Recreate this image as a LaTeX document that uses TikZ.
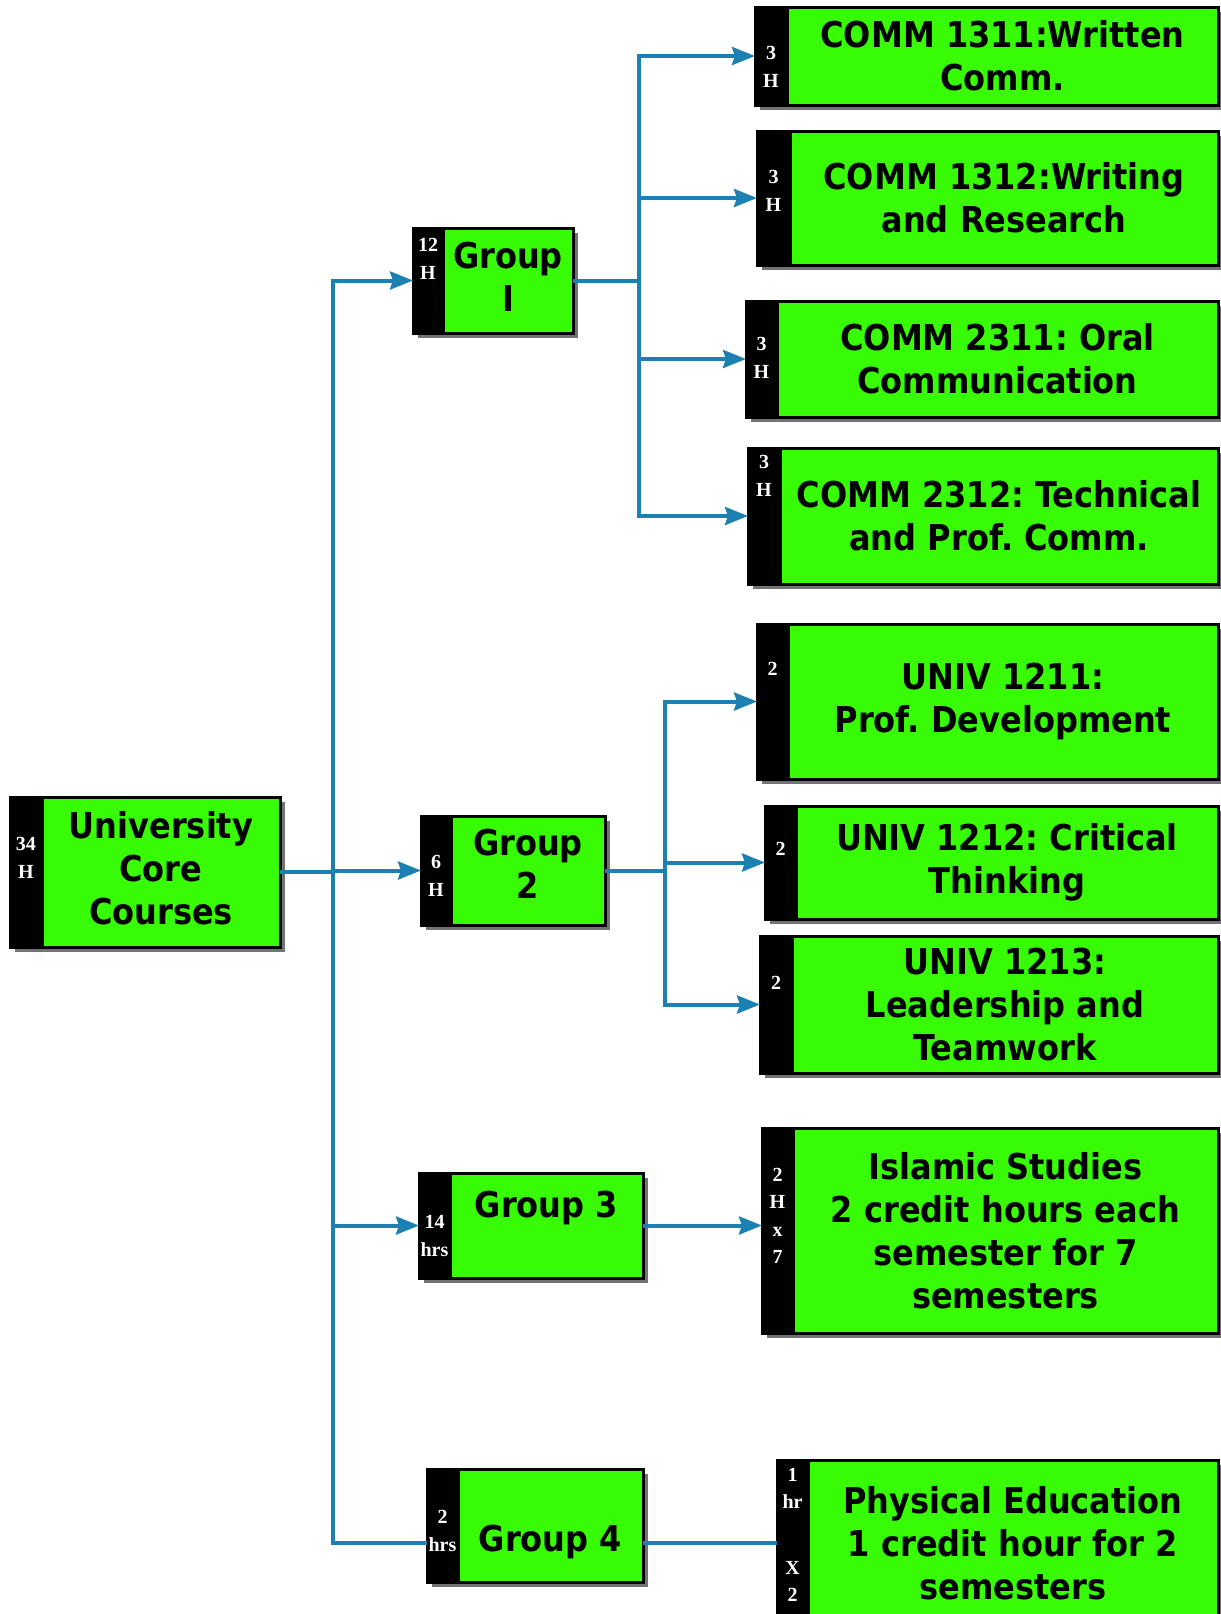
\documentclass[tikz,border=0pt]{standalone}
\usepackage{fontspec}
\setmainfont{Liberation Serif}
\newfontfamily\boxfont{DejaVu Sans Condensed Bold}
\newfontfamily\hrsfont{Liberation Serif Bold}
\usetikzlibrary{shadows,arrows.meta}
\frenchspacing

\definecolor{boxgreen}{RGB}{55,252,5}
\definecolor{linkblue}{RGB}{28,128,178}
\definecolor{shadowgray}{RGB}{115,115,115}

\tikzset{
  boxshadow/.style={drop shadow={shadow xshift=2.5pt, shadow yshift=-2.5pt, fill=shadowgray, opacity=1}},
  stripbox/.style={fill=black, draw=black, line width=1.5pt, inner sep=0pt, outer sep=0pt,
    anchor=north west, boxshadow},
  greenbox/.style={fill=boxgreen, draw=black, line width=1.5pt, inner sep=0pt, outer sep=0pt,
    anchor=north west, boxshadow},
  maintext/.style={font=\boxfont\fontsize{17.8pt}{21.5pt}\selectfont, align=center, inner sep=0pt},
  hrstext/.style={font=\hrsfont\fontsize{10pt}{13.7pt}\selectfont, text=white, align=center, inner sep=0pt},
  conn/.style={draw=linkblue, line width=2pt},
  arr/.style={conn, -{Stealth[length=11.5pt, width=9pt, inset=1.5pt]}},
}

% course box: name, left, top, right, bottom, right edge of the black strip
\newcommand\crsbox[6]{%
  \node[stripbox, minimum width={(#6-#2)*0.5pt}, minimum height={(#5-#3)*0.5pt}] (#1s) at (#2,#3) {};
  \node[greenbox, minimum width={(#4-#6)*0.5pt}, minimum height={(#5-#3)*0.5pt}] (#1) at (#1s.north east) {};
}
% white hours label inside the strip: name, vertical centre, text
\newcommand\hrslabel[3]{%
  \node[hrstext] (#1h) at (#1s.center |- 0,#2) {#3};
}

\begin{document}
\begin{tikzpicture}[x=0.5pt, y=-0.5pt]
  \useasboundingbox (0,0) rectangle (1221,1614);
  \fill[white] (0,0) rectangle (1221,1614);
  \clip (0,0) rectangle (1221,1614);

  % boxes
  \crsbox{r}{10}{797}{280}{947}{42}
  \crsbox{g1}{413}{228}{573}{333}{443}
  \crsbox{g2}{421}{816}{605}{925}{451}
  \crsbox{g3}{419}{1173}{643}{1278}{450}
  \crsbox{g4}{427}{1469}{643}{1582}{458}
  \crsbox{c1}{755}{7}{1218}{105}{787}
  \crsbox{c2}{757}{131}{1218}{265}{790}
  \crsbox{c3}{746}{301}{1218}{417}{777}
  \crsbox{c4}{748}{448}{1218}{584}{780}
  \crsbox{u1}{757}{624}{1218}{779}{788}
  \crsbox{u2}{765}{806}{1218}{919}{796}
  \crsbox{u3}{760}{936}{1218}{1073}{792}
  \crsbox{isl}{762}{1128}{1218}{1333}{793}
  \crsbox{pe}{777}{1460}{1218}{1626}{808}

  % main texts
  \node[maintext] (rt) at ([yshift=2pt]r.center) {University\\Core\\Courses};
  \node[maintext] (g1t) at ([yshift=2pt]g1.center) {Group\\I};
  \node[maintext] (g2t) at ([yshift=3.5pt]g2.center) {Group\\2};
  \node[maintext] (g3t) at ([yshift=9pt]g3.center) {Group 3};
  \node[maintext] (g4t) at ([yshift=-8pt]g4.center) {Group 4};
  \node[maintext] (c1t) at (c1.center) {COMM 1311:Written\\Comm.};
  \node[maintext] (c2t) at (c2.center) {COMM 1312:Writing\\and Research};
  \node[maintext] (c3t) at (c3.center) {COMM 2311: Oral\\Communication};
  \node[maintext] (c4t) at (c4.center) {COMM 2312: Technical\\and Prof. Comm.};
  \node[maintext] (u1t) at (u1.center) {UNIV 1211:\\Prof. Development};
  \node[maintext] (u2t) at (u2.center) {UNIV 1212: Critical\\Thinking};
  \node[maintext] (u3t) at (u3.center) {UNIV 1213:\\Leadership and\\Teamwork};
  \node[maintext] (islt) at (isl.center) {Islamic Studies\\2 credit hours each\\semester for 7\\semesters};
  \node[maintext] (pet) at (pe.center) {Physical Education\\1 credit hour for 2\\semesters};

  % hours in the strips
  \hrslabel{r}{858}{34\\H}
  \hrslabel{g1}{259}{12\\H}
  \hrslabel{g2}{876}{6\\H}
  \hrslabel{g3}{1236}{14\\hrs}
  \hrslabel{g4}{1531}{2\\hrs}
  \hrslabel{c1}{67}{3\\H}
  \hrslabel{c2}{191}{3\\H}
  \hrslabel{c3}{358}{3\\H}
  \hrslabel{c4}{476}{3\\H}
  \hrslabel{u1}{669}{2}
  \hrslabel{u2}{849}{2}
  \hrslabel{u3}{983}{2}
  \hrslabel{isl}{1216}{2\\H\\x\\7}
  \hrslabel{pe}{1535}{1\\hr\\[19pt]X\\2}

  % connectors from the root
  \coordinate (tk) at ([xshift=26.5pt]r.east);
  \draw[conn] (r.east) -- (tk);
  \draw[arr] (tk) |- (g1s.west);
  \draw[arr] (tk) |- (g2s.west);
  \draw[arr] (tk) |- (g3s.west);
  \draw[conn] (tk) |- ([yshift=-8.75pt]g4s.west);

  % Group I branch
  \coordinate (b1) at ([xshift=33pt]g1.east);
  \draw[conn] (g1.east) -- (b1);
  \draw[arr] (b1) |- (c1s.west);
  \draw[arr] (b1) |- (c2s.west);
  \draw[arr] (b1) |- (c3s.west);
  \draw[arr] (b1) |- (c4s.west);

  % Group 2 branch
  \coordinate (b2) at ([xshift=30pt]g2.east);
  \draw[conn] (g2.east) -- (b2);
  \draw[arr] (b2) |- (u1s.west);
  \draw[arr] (b2) |- (u2s.west);
  \draw[arr] (b2) |- (u3s.west);

  % Groups 3 and 4
  \draw[arr] (g3.east) -- (isls.west |- g3.east);
  \draw[conn] (pes.west -| g4.east) -- (pes.west);
\end{tikzpicture}
\end{document}
